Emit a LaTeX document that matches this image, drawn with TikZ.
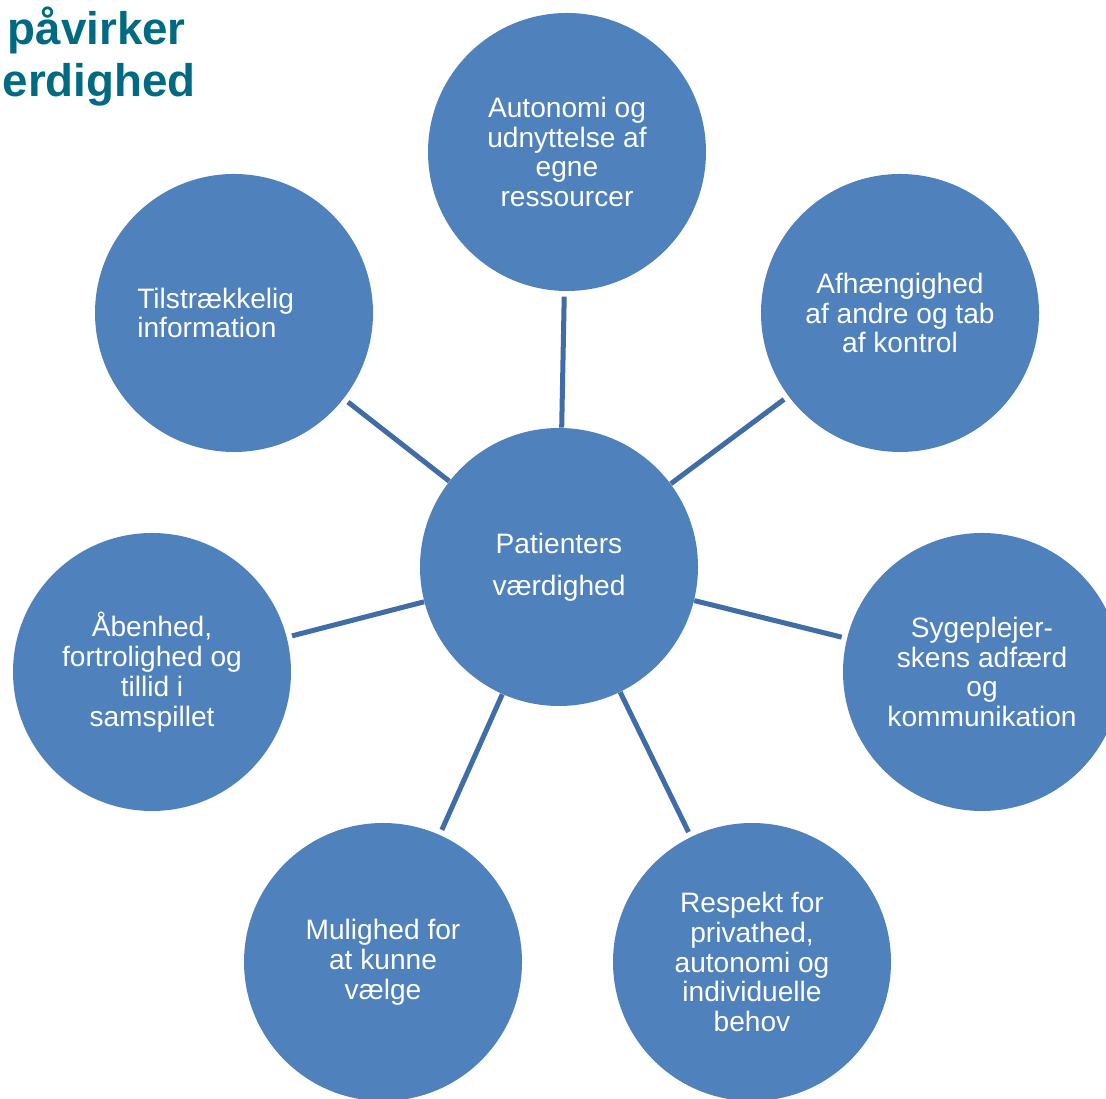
\documentclass[tikz,border=0pt]{standalone}
\usepackage{fontspec}
\setmainfont{Liberation Sans}
\definecolor{circblue}{RGB}{79,129,189}
\definecolor{lineblue}{RGB}{64,108,168}
\definecolor{titleteal}{RGB}{0,106,130}
\begin{document}
\begin{tikzpicture}[
	bubble/.style={circle, fill=circblue, minimum size=5.56cm, inner sep=0pt, text=white, align=center, font=\fontsize{16}{17}\selectfont},
	bubbletext/.style={text=white, inner sep=0pt, font=\fontsize{16}{17}\selectfont},
	spoke/.style={lineblue, line width=2.85pt, shorten >=3pt},
	heading/.style={text=titleteal, font=\fontsize{26}{26}\selectfont\bfseries, anchor=base east, inner sep=0pt}]
	\clip (0,0) rectangle (22.12,21.98);
	
	\node[heading] (head1) at (3.72,21.08) {påvirker};
	\node[heading] (head2) at (3.92,20.04) {erdighed};
	
	\node[bubble, font=\fontsize{16}{24}\selectfont] (pv) at (11.18,10.64) {Patienters\\værdighed};
	\node[bubble] (auto) at (11.34,18.94) {Autonomi og\\udnyttelse af\\egne\\ressourcer};
	\node[bubble] (info) at (4.68,15.72) {};
	\node[bubbletext, anchor=west, align=left] (infotext) at ([xshift=-1.94cm]info.center) {Tilstrækkelig\\information};
	\node[bubble] (afh) at (18.00,15.72) {Afhængighed\\af andre og tab\\af kontrol};
	\node[bubble] (aab) at (3.04,8.54) {Åbenhed,\\fortrolighed og\\tillid i\\samspillet};
	\node[bubble] (syg) at (19.64,8.54) {Sygeplejer-\\skens adfærd\\og\\kommunikation};
	\node[bubble] (mul) at (7.66,2.74) {Mulighed for\\at kunne\\vælge};
	\node[bubble] (resp) at (15.04,2.74) {Respekt for\\privathed,\\autonomi og\\individuelle\\behov};
	
	\draw[spoke] (pv) -- (auto);
	\draw[spoke] (pv) -- (info);
	\draw[spoke] (pv) -- (afh);
	\draw[spoke] (pv) -- (aab);
	\draw[spoke] (pv) -- (syg);
	\draw[spoke] (pv) -- (mul);
	\draw[spoke] (pv) -- (resp);
\end{tikzpicture}
\end{document}
